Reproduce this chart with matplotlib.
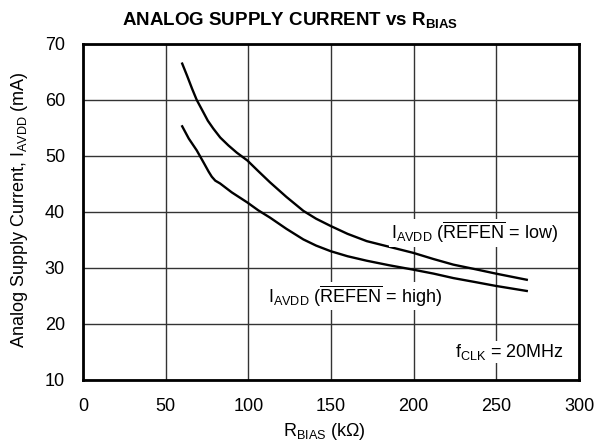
import numpy as np
import matplotlib
matplotlib.use("Agg")
import matplotlib.pyplot as plt

plt.rcParams['font.family'] = ['Liberation Sans', 'DejaVu Sans']
plt.rcParams['mathtext.fontset'] = 'custom'
plt.rcParams['mathtext.rm'] = 'Liberation Sans'
plt.rcParams['mathtext.it'] = 'Liberation Sans:italic'
plt.rcParams['mathtext.bf'] = 'Liberation Sans:bold'

# R_BIAS (kOhm) and supply current (mA)
r_low = [60, 63, 66, 68.8, 72.8, 75.5, 78.8, 83, 87.9, 93, 99.4, 106, 113.1, 123, 133.3,
         141, 149.8, 160, 171.6, 185, 199.8, 212, 224, 237, 249.7, 268.4]
i_low = [66.5, 64.3, 62.0, 60.0, 57.8, 56.3, 54.9, 53.3, 51.9, 50.6, 49.2, 47.3, 45.3, 42.7, 40.2,
         38.8, 37.5, 36.1, 34.8, 33.8, 32.7, 31.6, 30.6, 29.8, 29.0, 27.9]

r_high = [60, 64, 68.8, 73, 76, 77.9, 80, 82.9, 90, 99.4, 106, 113.1, 123, 133.3,
          141, 149.8, 160, 171.6, 185, 199.8, 212, 224, 237, 249.7, 268.4]
i_high = [55.3, 53.1, 51.0, 48.8, 47.2, 46.3, 45.6, 45.1, 43.5, 41.7, 40.3, 39.0, 37.0, 35.1,
          34.0, 33.0, 32.1, 31.3, 30.5, 29.7, 29.0, 28.2, 27.5, 26.8, 25.9]

x_ticks = [0, 50, 100, 150, 200, 250, 300]
y_ticks = [10, 20, 30, 40, 50, 60, 70]

fig = plt.figure(figsize=(5.97, 4.43), dpi=100)
ax = fig.add_axes([83 / 597, 1 - 380 / 443, 496 / 597, 336 / 443])

ax.plot(r_low, i_low, color='black', lw=1.7, zorder=3, solid_joinstyle='round')
ax.plot(r_high, i_high, color='black', lw=1.7, zorder=3, solid_joinstyle='round')

ax.set_xlim(0, 300)
ax.set_ylim(10, 70)
ax.set_xticks(x_ticks)
ax.set_yticks(y_ticks)
ax.tick_params(length=0, labelsize=13, pad=13)
ax.grid(True, color='#333333', lw=1.0)
ax.set_axisbelow(True)
for s in ax.spines.values():
    s.set_linewidth(2.0)

ax.set_xlabel(r'$\mathregular{R_{BIAS}}$ (k$\Omega$)', fontsize=13)
ax.xaxis.set_label_coords(0.486, -0.122)
ax.set_ylabel(r'Analog Supply Current, $\mathregular{I_{AVDD}}$ (mA)', fontsize=13)
ax.yaxis.set_label_coords(-0.106, 0.507)
fig.text(0.486, 0.955, r'ANALOG SUPPLY CURRENT vs $\mathbf{R_{BIAS}}$',
         fontsize=13.5, fontweight='bold', ha='center', va='center')

box = dict(facecolor='white', edgecolor='none', pad=1)
ax.text(186, 36.3, r'$\mathregular{I_{AVDD}}$ ($\mathregular{\overline{REFEN}}$ = low)',
        fontsize=13, ha='left', va='center', bbox=box, zorder=4)
ax.text(112, 25.0, r'$\mathregular{I_{AVDD}}$ ($\mathregular{\overline{REFEN}}$ = high)',
        fontsize=13, ha='left', va='center', bbox=box, zorder=4)
ax.text(291, 15.0, r'$\mathregular{f_{CLK}}$ = 20MHz',
        fontsize=13, ha='right', va='center', bbox=box, zorder=4)

fig.savefig('out.png', dpi=100)
